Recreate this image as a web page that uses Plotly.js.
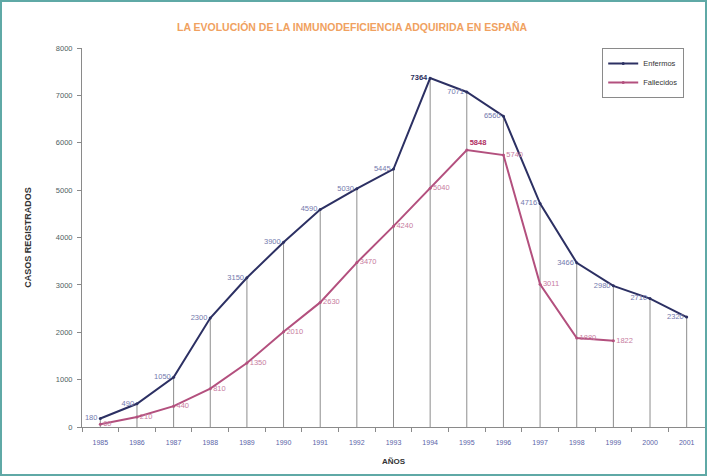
<!DOCTYPE html>
<html>
<head>
<meta charset="utf-8">
<script src="https://cdn.plot.ly/plotly-3.0.1.min.js"></script>
<style>
  html, body { margin: 0; padding: 0; background: #ffffff; }
  #wrap { position: relative; width: 707px; height: 476px; }
  #chart { width: 707px; height: 476px; }
  #frame { position: absolute; left: 0; top: 0; width: 703px; height: 472px;
           border: 2px solid #5fa9a6; pointer-events: none; }
</style>
</head>
<body>
<div id="wrap">
  <div id="chart"></div>
  <div id="frame"></div>
</div>
<script>
// Años de diagnóstico
const years = ['1985','1986','1987','1988','1989','1990','1991','1992','1993',
               '1994','1995','1996','1997','1998','1999','2000','2001'];
// Casos de enfermos por año
const enfermos = [180, 490, 1050, 2300, 3150, 3900, 4590, 5030, 5445,
                  7364, 7071, 6560, 4716, 3466, 2980, 2710, 2320];
// Fallecidos por año (serie hasta 1999)
const fallecidos = [60, 210, 440, 810, 1350, 2010, 2630, 3470, 4240,
                    5040, 5848, 5740, 3011, 1880, 1822];
const yTicks = [0, 1000, 2000, 3000, 4000, 5000, 6000, 7000, 8000];

const FONT = 'Liberation Sans, Arial, sans-serif';
const NAVY = '#2c3063';
const ROSE = '#b3507e';

// Máximo de cada serie, destacado en negrita
const maxE = Math.max(...enfermos);
const maxF = Math.max(...fallecidos);
const labelE = enfermos.map(v => v === maxE ? '<b>' + v + '</b>' : String(v));
const labelF = fallecidos.map(v => v === maxF ? '<b>' + v + '</b>' : String(v));
const colorE = enfermos.map(v => v === maxE ? '#2a2d5c' : '#7479ad');
const colorF = fallecidos.map(v => v === maxF ? '#b02e62' : '#c77ca0');
const posF = fallecidos.map(v => v === maxF ? 'top right' : 'middle right');

const traces = [
  {
    // líneas verticales desde cada punto hasta el eje
    x: years, y: enfermos, type: 'scatter', mode: 'markers',
    marker: { size: 1, opacity: 0 },
    error_y: { type: 'data', symmetric: false, array: enfermos.map(() => 0),
               arrayminus: enfermos, color: '#8d8d8d', thickness: 1, width: 0 },
    showlegend: false, hoverinfo: 'skip'
  },
  {
    name: 'Enfermos', x: years, y: enfermos, type: 'scatter',
    mode: 'lines+markers+text',
    line: { color: NAVY, width: 2 },
    marker: { color: NAVY, size: 3 },
    text: labelE, textposition: 'middle left',
    textfont: { family: FONT, size: 7.5, color: colorE }
  },
  {
    name: 'Fallecidos', x: years.slice(0, fallecidos.length), y: fallecidos,
    type: 'scatter', mode: 'lines+markers+text',
    line: { color: ROSE, width: 2 },
    marker: { color: ROSE, size: 3 },
    text: labelF, textposition: posF,
    textfont: { family: FONT, size: 7.5, color: colorF }
  }
];

const layout = {
  width: 707, height: 476,
  margin: { l: 82, r: 2, t: 48, b: 49 },
  paper_bgcolor: '#ffffff', plot_bgcolor: '#ffffff',
  font: { family: FONT, size: 7, color: '#555' },
  title: {
    text: '<b>LA EVOLUCIÓN DE LA INMUNODEFICIENCIA ADQUIRIDA EN ESPAÑA</b>',
    font: { family: FONT, size: 10.5, color: '#f0a160' },
    x: 0.498, xref: 'container', xanchor: 'center',
    y: 1 - 27 / 476, yref: 'container', yanchor: 'middle'
  },
  xaxis: {
    type: 'category', range: [-0.5, 16.5],
    showgrid: false, zeroline: false,
    showline: true, linecolor: '#8a8a8a', linewidth: 1,
    ticks: 'outside', tickson: 'boundaries', ticklen: 4, tickcolor: '#8a8a8a',
    ticklabelstandoff: 9,
    tickfont: { family: FONT, size: 7, color: '#5a64a8' },
    title: { text: '<b>AÑOS</b>', standoff: 12,
             font: { family: FONT, size: 8, color: '#333' } },
    automargin: false
  },
  yaxis: {
    range: [0, 8000], tickvals: yTicks, ticktext: yTicks.map(String),
    showgrid: false, zeroline: false,
    showline: true, linecolor: '#8a8a8a', linewidth: 1,
    ticks: 'outside', ticklen: 4, tickcolor: '#8a8a8a',
    ticklabelstandoff: 3,
    tickfont: { family: FONT, size: 7.5, color: '#4f6262' },
    title: { text: '<b>CASOS REGISTRADOS</b>', standoff: 22,
             font: { family: FONT, size: 9, color: '#333' } },
    automargin: false
  },
  showlegend: true,
  legend: {
    x: 0.835, y: 1.0, xanchor: 'left', yanchor: 'top',
    bgcolor: '#ffffff', bordercolor: '#8a8a8a', borderwidth: 1,
    font: { family: FONT, size: 7.5, color: '#333' },
    itemwidth: 30, tracegroupgap: 0
  }
};

Plotly.newPlot('chart', traces, layout, { displayModeBar: false, staticPlot: true });
</script>
</body>
</html>
